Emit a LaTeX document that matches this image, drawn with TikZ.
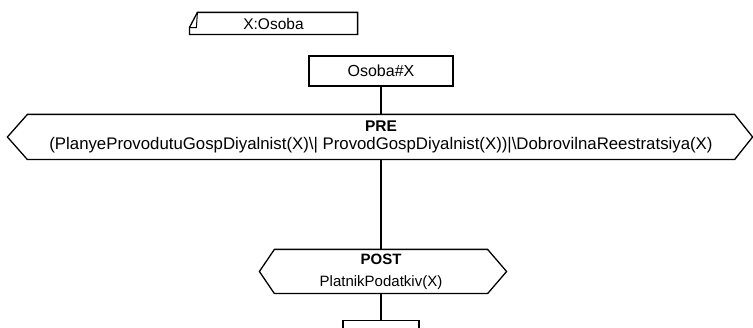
\documentclass[tikz,border=0pt]{standalone}
\usepackage{fontspec}
\setmainfont{Liberation Sans}
\usetikzlibrary{calc}
\begin{document}
\begin{tikzpicture}[x=1pt,y=-1pt,line width=1.2pt,
  lbl/.style={font=\fontsize{15.5}{18.5}\selectfont,inner sep=0pt,align=center},
  frame/.style={draw,line width=1.3pt}]
\useasboundingbox (0,0) rectangle (753,328);
% X:Osoba
\node[lbl,minimum width=167pt,minimum height=21pt] (xo) at (273.5,23.5) {X:Osoba};
\draw[frame] ($(xo.north west)+(8,0)$) -- (xo.north east) -- (xo.south east)
  -- (xo.south west) -- ($(xo.south west)+(0,-7)$) -- cycle;
\draw[line width=1pt] ($(xo.north west)+(8,0)$) -- ($(xo.south west)+(7,-7)$) -- ($(xo.south west)+(0,-7)$);
% Osoba#X
\node[lbl,frame,font=\fontsize{16}{19}\selectfont,minimum width=144pt,minimum height=30pt] (osx) at (381,71) {Osoba\#X};
% PRE
\node[lbl,minimum width=706pt,minimum height=44pt] (pre) at (381,137)
  {\textbf{PRE}\\{\fontsize{16.8}{18.5}\selectfont(PlanyeProvodutuGospDiyalnist(X)\textbackslash| ProvodGospDiyalnist(X))|\textbackslash DobrovilnaReestratsiya(X)}};
\draw[frame] (pre.north west) -- (pre.north east) -- ($(pre.east)+(18,0)$) -- (pre.south east)
  -- (pre.south west) -- ($(pre.west)+(-20,0)$) -- cycle;
% POST
\node[lbl,font=\fontsize{15}{22}\selectfont,minimum width=212pt,minimum height=43pt] (post) at (381,271.5)
  {\textbf{POST}\\PlatnikPodatkiv(X)};
\draw[frame] (post.north west) -- (post.north east) -- ($(post.east)+(19,0)$) -- (post.south east)
  -- (post.south west) -- ($(post.west)+(-15,0)$) -- cycle;
% bottom box
\node[frame,inner sep=0pt,minimum width=76pt,minimum height=16pt,anchor=north] (bot) at (381,320) {};
% connectors
\draw (osx.south) -- (pre.north);
\draw (pre.south) -- (post.north);
\draw (post.south) -- (bot.north);
\end{tikzpicture}
\end{document}
